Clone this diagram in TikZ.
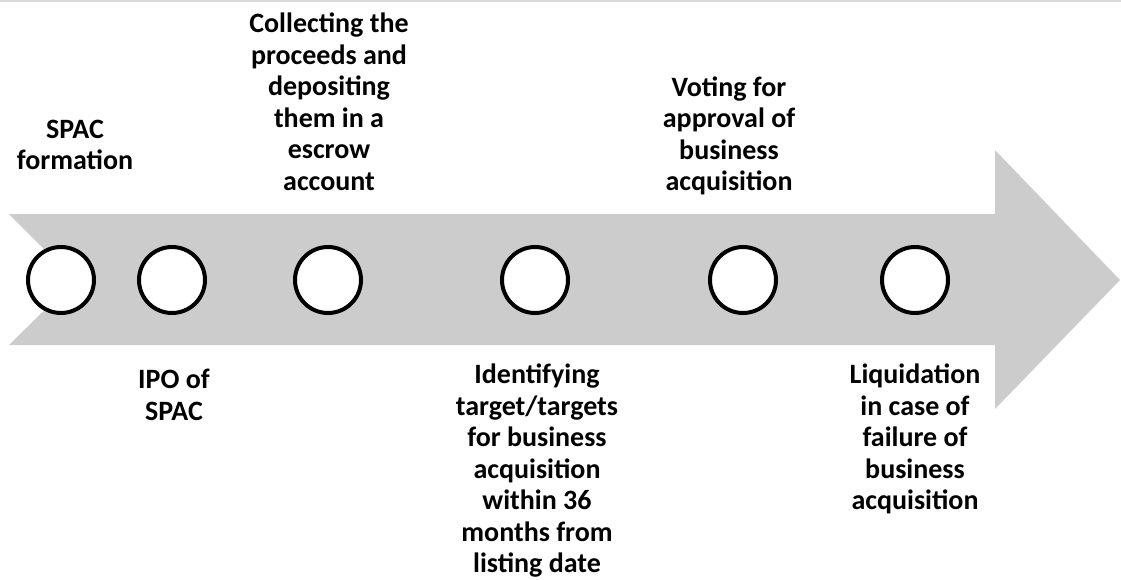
\documentclass[tikz,border=0pt]{standalone}
\usepackage{fontspec}
\setmainfont{Carlito}
\usepackage{tikz}
\usetikzlibrary{positioning}

\begin{document}
\begin{tikzpicture}[
  x=1pt, y=-1pt,
  stage/.style={circle, draw=black, line width=4pt, fill=white, minimum size=66pt, inner sep=0pt},
  lbl/.style={align=center, font=\fontsize{28}{31.5}\selectfont\bfseries, inner sep=0pt}
]
\useasboundingbox (0,0) rectangle (1121,579);
\draw[black!15, line width=1.5pt] (0,1) -- (1121,1);

% timeline arrow
\fill[black!20] (9,214) -- (995,214) -- (995,150) -- (1120,280) -- (995,409)
  -- (995,345) -- (9,345) -- (75,280) -- cycle;

% stages
\node[stage] (formation) at (61,280) {};
\node[stage] (ipo) at (172,280) {};
\node[stage] (escrow) at (328,280) {};
\node[stage] (target) at (535,280) {};
\node[stage] (vote) at (743,280) {};
\node[stage] (liquid) at (915,280) {};

% labels above
\node[lbl] (formationtxt) at (75,145) {SPAC\\formation};
\node[lbl] (escrowtxt) at (329,102) {Collecting the\\proceeds and\\depositing\\them in a\\escrow\\account};
\node[lbl] (votetxt) at (729,136) {Voting for\\approval of\\business\\acquisition};

% labels below
\node[lbl] (ipotxt) at (174,395) {IPO of\\SPAC};
\node[lbl] (targettxt) at (537,471) {Identifying\\target/targets\\for business\\acquisition\\within 36\\months from\\listing date};
\node[lbl] (liquidtxt) at (915,439) {Liquidation\\in case of\\failure of\\business\\acquisition};
\end{tikzpicture}
\end{document}
